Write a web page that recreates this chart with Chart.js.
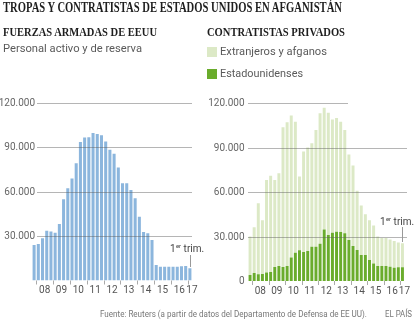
<!DOCTYPE html>
<html lang="es">
<head>
<meta charset="utf-8">
<script src="https://cdn.jsdelivr.net/npm/chart.js@4.4.1/dist/chart.umd.min.js"></script>
<style>
    html, body { margin: 0; padding: 0; background: #fff; }
    #page { position: relative; width: 414px; height: 326px; overflow: hidden; }
    canvas { position: absolute; top: 0; }
    .t { position: absolute; white-space: nowrap; transform-origin: 0 0; line-height: 1; }
    .head { font-family: "Liberation Serif", serif; font-weight: bold; color: #1e1e1e; }
    .sans { font-family: Roboto, sans-serif; color: #5a5a5a; }
    .sq { position: absolute; width: 10px; height: 10px; }
</style>
</head>
<body>
<div id="page">
    <canvas id="tropas" width="207" height="326" style="left:0"></canvas>
    <canvas id="contratistas" width="207" height="326" style="left:207px"></canvas>

    <div class="t head" data-w="339" style="left:3px;top:1px;font-size:14px">TROPAS Y CONTRATISTAS DE ESTADOS UNIDOS EN AFGANISTÁN</div>
    <div class="t head" data-w="154" style="left:3px;top:26px;font-size:12.5px">FUERZAS ARMADAS DE EEUU</div>
    <div class="t head" data-w="138" style="left:207px;top:26px;font-size:12.5px">CONTRATISTAS PRIVADOS</div>
    <div class="t sans" data-w="139" style="left:3px;top:43px;font-size:11.5px">Personal activo y de reserva</div>

    <div class="sq" style="left:207px;top:47px;background:#dce9c6"></div>
    <div class="t sans" data-w="107" style="left:220px;top:46px;font-size:11.5px">Extranjeros y afganos</div>
    <div class="sq" style="left:207px;top:69px;background:#6aac2c"></div>
    <div class="t sans" data-w="83" style="left:220px;top:68px;font-size:11.5px">Estadounidenses</div>

    <div class="t sans" data-w="267" style="left:100px;top:310px;font-size:9px;color:#777">Fuente: Reuters (a partir de datos del Departamento de Defensa de EE UU).</div>
    <div class="t sans" data-w="27" style="left:385px;top:310px;font-size:9px;color:#777">EL PAÍS</div>
</div>
<script>
// trimestres, del 4T 2007 al 1T 2017
var quarters = [
    '4T07',
    '1T08', '2T08', '3T08', '4T08',
    '1T09', '2T09', '3T09', '4T09',
    '1T10', '2T10', '3T10', '4T10',
    '1T11', '2T11', '3T11', '4T11',
    '1T12', '2T12', '3T12', '4T12',
    '1T13', '2T13', '3T13', '4T13',
    '1T14', '2T14', '3T14', '4T14',
    '1T15', '2T15', '3T15', '4T15',
    '1T16', '2T16', '3T16', '4T16',
    '1T17'
];
var yearLabels = ['08', '09', '10', '11', '12', '13', '14', '15', '16', '17'];
var yTicks = [0, 30000, 60000, 90000, 120000];

// fuerzas armadas (personal activo y de reserva)
var tropas = [24000, 24700, 28500, 33600, 33000, 32300, 38200, 54900, 62300, 68800,
    79200, 93400, 96500, 96700, 99500, 98800, 98100, 93800, 88200, 85500,
    76200, 65700, 65700, 61100, 55500, 43100, 32800, 31900, 27400, 10500,
    9300, 9300, 9300, 9300, 9300, 9600, 9800, 8200];

// contratistas privados
var estadounidenses = [4000, 5400, 4600, 4800, 5700, 6100, 9400, 10100, 9500, 10100,
    15800, 19000, 20700, 19600, 20300, 23200, 23200, 25200, 34700, 31100,
    32600, 33300, 33100, 32200, 27700, 23600, 20900, 17600, 17600, 14200,
    11900, 10100, 10100, 10100, 9700, 9000, 9300, 9300];
var extranjeros = [26000, 30900, 47900, 36200, 62500, 64900, 58800, 62700, 94300, 97100,
    95900, 88600, 49800, 67800, 69800, 69800, 78800, 88100, 82300, 82600,
    76400, 76700, 74500, 69800, 57800, 54400, 40100, 33400, 27400, 26800,
    25600, 19900, 18900, 18900, 18300, 18000, 16700, 16200];

// ajusta el ancho de los textos al original
document.querySelectorAll('[data-w]').forEach(function (el) {
    var w = el.getBoundingClientRect().width;
    el.style.transform = 'scaleX(' + (el.dataset.w / w) + ')';
});

function miles(v) {
    return String(v).replace(/\B(?=(\d{3})+(?!\d))/g, '.');
}

// rejilla encima de las barras, etiquetas y nota del primer trimestre
var ejes = {
    id: 'ejes',
    afterDatasetsDraw: function (chart, args, opts) {
        var ctx = chart.ctx, x = chart.scales.x, y = chart.scales.y;
        ctx.save();
        ctx.lineWidth = 1;
        ctx.font = '10px Roboto';
        ctx.textAlign = 'right';
        ctx.textBaseline = 'middle';
        yTicks.forEach(function (v) {
            var py = Math.round(y.getPixelForValue(v)) + 0.5;
            if (v > 0) {
                ctx.strokeStyle = 'rgba(90,90,90,0.45)';
                ctx.beginPath();
                ctx.moveTo(opts.gridDe, py);
                ctx.lineTo(v === 120000 ? opts.gridTope : opts.gridA, py);
                ctx.stroke();
            }
            if (v > 0 || opts.cero) {
                ctx.fillStyle = '#666';
                ctx.fillText(miles(v), opts.etiquetaX, py);
            }
        });

        // marcas de año y etiquetas
        var base = y.getPixelForValue(0);
        ctx.strokeStyle = '#aaa';
        ctx.fillStyle = '#555';
        ctx.font = '10px Roboto';
        ctx.textAlign = 'center';
        ctx.textBaseline = 'alphabetic';
        yearLabels.forEach(function (lab, k) {
            var first = 1 + 4 * k;
            var last = Math.min(first + 3, quarters.length - 1);
            var tx = Math.round((x.getPixelForValue(first - 1) + x.getPixelForValue(first)) / 2) + 0.5;
            ctx.beginPath();
            ctx.moveTo(tx, base);
            ctx.lineTo(tx, base + 4);
            ctx.stroke();
            var cx = (x.getPixelForValue(first) + x.getPixelForValue(last)) / 2;
            if (first === last) {
                cx += 2;
            }
            ctx.fillText(lab, cx, base + 12.5);
        });

        // nota "1er trim."
        var n = opts.nota;
        var lx = Math.round(x.getPixelForValue(quarters.length - 1)) + 0.5;
        ctx.strokeStyle = '#999';
        ctx.beginPath();
        ctx.moveTo(lx, n.de);
        ctx.lineTo(lx, n.a);
        ctx.stroke();
        ctx.fillStyle = '#444';
        ctx.textAlign = 'left';
        ctx.font = '10px Roboto';
        ctx.fillText('1', n.x, n.y);
        var w1 = ctx.measureText('1').width;
        ctx.font = '6px Roboto';
        ctx.fillText('er', n.x + w1 + 0.3, n.y - 4);
        var w2 = ctx.measureText('er').width;
        ctx.font = '10px Roboto';
        ctx.fillText(' trim.', n.x + w1 + w2 + 0.3, n.y);
        ctx.restore();
    }
};

new Chart('tropas', {
    type: 'bar',
    data: {
        labels: quarters,
        datasets: [
            {
                data: tropas,
                backgroundColor: '#8cb6dd',
                barPercentage: 0.72,
                categoryPercentage: 1,
            },
        ],
    },
    options: {
        responsive: false,
        animation: false,
        layout: { padding: { left: 32, right: 15, top: 102.7, bottom: 45.5 } },
        plugins: {
            legend: { display: false },
            tooltip: { enabled: false },
            ejes: { gridDe: 37, gridA: 192, gridTope: 192, etiquetaX: 35, cero: false,
                nota: { x: 170, y: 252, de: 255, a: 267 } },
        },
        scales: {
            x: { display: false },
            y: { display: false, min: 0, max: 120000 },
        },
    },
    plugins: [ejes],
});

new Chart('contratistas', {
    type: 'bar',
    data: {
        labels: quarters,
        datasets: [
            {
                label: 'Estadounidenses',
                data: estadounidenses,
                backgroundColor: '#6aac2c',
                barPercentage: 0.72,
                categoryPercentage: 1,
            },
            {
                label: 'Extranjeros y afganos',
                data: extranjeros,
                backgroundColor: '#dce9c6',
                barPercentage: 0.72,
                categoryPercentage: 1,
            },
        ],
    },
    options: {
        responsive: false,
        animation: false,
        layout: { padding: { left: 41, right: 9.5, top: 103.3, bottom: 45 } },
        plugins: {
            legend: { display: false },
            tooltip: { enabled: false },
            ejes: { gridDe: 41, gridA: 200, gridTope: 141, etiquetaX: 37.5, cero: true,
                nota: { x: 173, y: 224.5, de: 227, a: 242 } },
        },
        scales: {
            x: { display: false, stacked: true },
            y: { display: false, stacked: true, min: 0, max: 120000 },
        },
    },
    plugins: [ejes],
});
</script>
</body>
</html>
